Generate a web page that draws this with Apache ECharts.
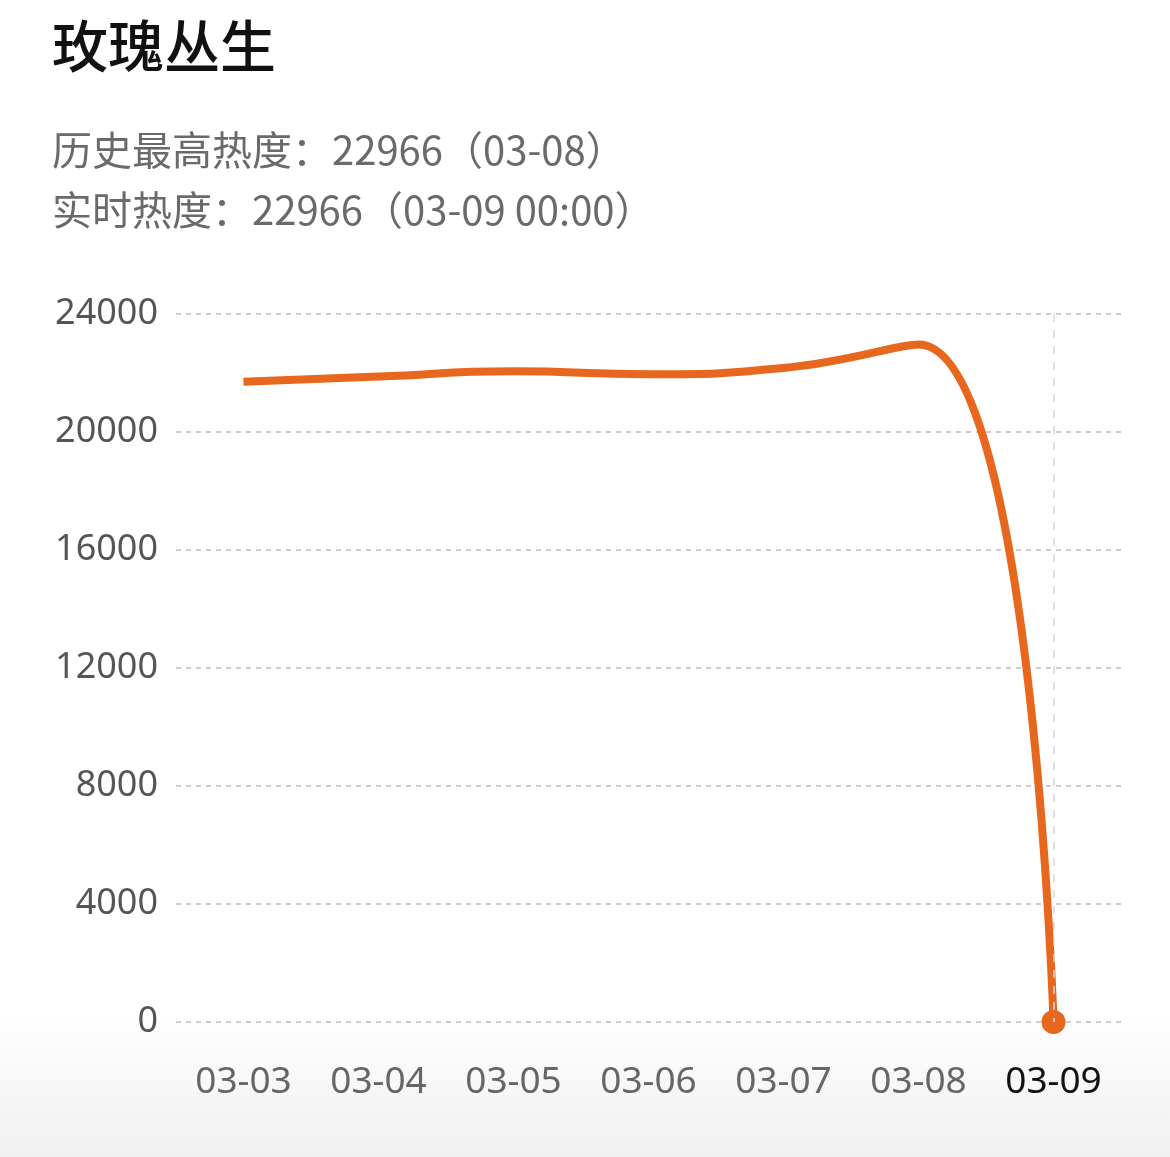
<!DOCTYPE html>
<html><head><meta charset="utf-8">
<script src="https://cdn.jsdelivr.net/npm/echarts@6/dist/echarts.min.js"></script>
<style>html,body{margin:0;padding:0;background:#fff}#c{width:1170px;height:1157px}</style>
</head><body><div id="c"></div>
<script>
const categories = ['03-03','03-04','03-05','03-06','03-07','03-08','03-09'];
const heatValues = [21700, 21880, 22060, 21960, 22170, 22966, 0];
const titleText = '玫瑰丛生';
const subLine1 = '历史最高热度：22966（03-08）';
const subLine2 = '实时热度：22966（03-09 00:00）';

const chart = echarts.init(document.getElementById('c'));
chart.setOption({
  backgroundColor: '#fff',
  animation: false,
  graphic: [
    { type: 'rect', z: -10, shape: { x: 0, y: 1010, width: 1170, height: 147 },
      style: { fill: new echarts.graphic.LinearGradient(0,0,0,1,[{offset:0,color:'#ffffff'},{offset:1,color:'#f0f0f0'}]) } },
    { type: 'text', left: 52, top: 18, style: { text: titleText, fontSize: 56, fill: '#111', fontFamily: 'Noto Sans CJK SC', fontWeight: 500 } },
    { type: 'text', left: 52, top: 130, style: { text: subLine1, fontSize: 40, fill: '#6a6a6a', fontFamily: 'Noto Sans CJK SC' } },
    { type: 'text', left: 52, top: 190, style: { text: subLine2, fontSize: 40, fill: '#6a6a6a', fontFamily: 'Noto Sans CJK SC' } }
  ],
  grid: { left: 176, right: 49, top: 314, bottom: 135, containLabel: false },
  xAxis: {
    type: 'category', data: categories, boundaryGap: true,
    axisLine: { show: false }, axisTick: { show: false },
    axisLabel: { margin: 42, fontSize: 37, fontFamily: 'Noto Sans',
      color: function(v, i){ return i === categories.length - 1 ? '#111' : '#666'; } }
  },
  yAxis: {
    type: 'value', min: 0, max: 24000, interval: 4000,
    axisLine: { show: false }, axisTick: { show: false },
    axisLabel: { margin: 18, fontSize: 36, color: '#555', fontFamily: 'Noto Sans',
      formatter: function(v){ return String(v); } },
    splitLine: { lineStyle: { type: [5, 5], color: '#cccccc', width: 2 } }
  },
  series: [{
    type: 'line', data: heatValues, smooth: 0.5,
    symbol: 'circle',
    showSymbol: true,
    itemStyle: { color: '#e8671e' },
    lineStyle: { color: '#e8671e', width: 8 },
    symbolSize: function(v, p){ return p.dataIndex === categories.length - 1 ? 24 : 0; },
    markLine: {
      silent: true, symbol: 'none', label: { show: false },
      lineStyle: { type: [8, 8], color: '#d6d6d6', width: 1.5 },
      data: [[{ xAxis: '03-09', y: 314 }, { xAxis: '03-09', y: 1022 }]]
    }
  }]
});
</script></body></html>
